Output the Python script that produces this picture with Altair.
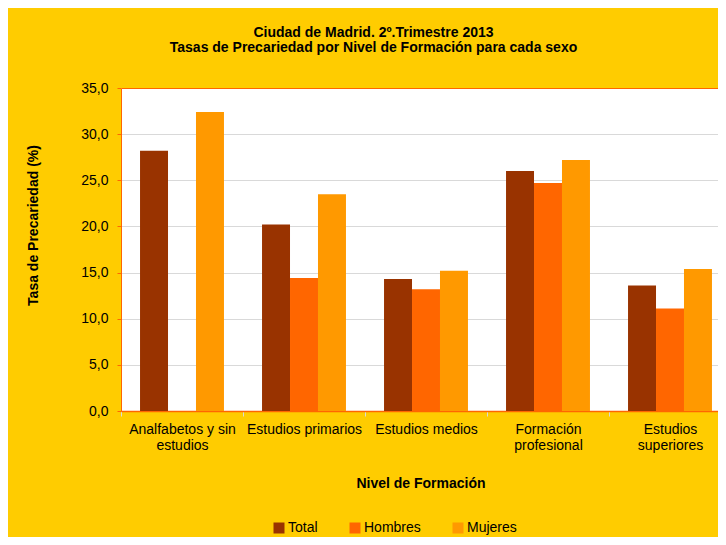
import altair as alt
import pandas as pd

categorias = ["Analfabetos y sin estudios", "Estudios primarios", "Estudios medios",
              "Formación profesional", "Estudios superiores"]
series = ["Total", "Hombres", "Mujeres"]
total = [28.2, 20.2, 14.3, 26.0, 13.6]
hombres = [None, 14.4, 13.2, 24.7, 11.1]
mujeres = [32.4, 23.5, 15.2, 27.2, 15.4]
colores = ["#993300", "#FF6600", "#FF9900"]
y_ticks = [0, 5, 10, 15, 20, 25, 30, 35]

rows = []
for i, c in enumerate(categorias):
    for s, vals in zip(series, [total, hombres, mujeres]):
        if vals[i] is not None:
            rows.append({"nivel": c, "serie": s, "tasa": vals[i]})
df = pd.DataFrame(rows)

FONT = "Liberation Sans"

label_expr = ("datum.label == 'Analfabetos y sin estudios' ? ['Analfabetos y sin', 'estudios'] : "
              "datum.label == 'Formación profesional' ? ['Formación', 'profesional'] : "
              "datum.label == 'Estudios superiores' ? ['Estudios', 'superiores'] : datum.label")

chart = alt.Chart(df).mark_bar().encode(
    x=alt.X("nivel:N", sort=categorias,
            scale=alt.Scale(domain=categorias, range=[0, 610], paddingInner=0, paddingOuter=0),
            axis=alt.Axis(title="Nivel de Formación", labelAngle=0, labelExpr=label_expr,
                          labelFont=FONT, labelFontSize=14, labelColor="#000000",
                          labelLineHeight=16, labelPadding=6, labelLimit=200,
                          tickBand="extent", tickColor="#D9D9D9", tickSize=5,
                          domainColor="#FF6600", domainWidth=1.5,
                          titleFont=FONT, titleFontSize=14, titleFontWeight="bold",
                          titleColor="#000000", titleX=299.5, titleY=72,
                          titleAlign="center", titleBaseline="middle")),
    xOffset=alt.XOffset("serie:N", sort=series,
                        scale=alt.Scale(domain=series, paddingInner=0, paddingOuter=0.68)),
    y=alt.Y("tasa:Q",
            scale=alt.Scale(domain=[0, 35], nice=False),
            axis=alt.Axis(title="Tasa de Precariedad (%)", values=y_ticks,
                          labelExpr="replace(format(datum.value, '.1f'), '.', ',')",
                          labelFont=FONT, labelFontSize=14, labelColor="#000000",
                          labelPadding=9, tickSize=4, tickColor="#FF6600",
                          domainColor="#FF6600",
                          gridColor=alt.condition("datum.value == 35",
                                                  alt.value("#FF6600"), alt.value("#D9D9D9")),
                          gridWidth=1,
                          titleFont=FONT, titleFontSize=14, titleFontWeight="bold",
                          titleColor="#000000", titleX=-88, titleY=137,
                          titleAlign="center", titleBaseline="middle", titleAngle=-90)),
    color=alt.Color("serie:N", sort=series,
                    scale=alt.Scale(domain=series, range=colores),
                    legend=alt.Legend(title=None, orient="none", legendX=151, legendY=433,
                                      direction="horizontal", symbolType="square",
                                      symbolSize=121, symbolStrokeWidth=0,
                                      labelFont=FONT, labelFontSize=14, labelColor="#000000",
                                      labelOffset=2, columnPadding=30, padding=0)),
).properties(
    width=597,
    height=323,
    title=alt.TitleParams(
        text=["Ciudad de Madrid. 2º.Trimestre 2013",
              "Tasas de Precariedad por Nivel de Formación para cada sexo"],
        font=FONT, fontSize=14, fontWeight="bold", color="#000000",
        anchor="middle", frame="group", dx=-46, offset=26, lineHeight=15),
    autosize=alt.AutoSizeParams(type="none"),
    padding={"left": 113, "top": 80, "right": 0, "bottom": 126},
    background="#FFCC00",
).configure_view(stroke=None, fill="#FFFFFF")

chart.save("out.html", embed_options={"renderer": "svg", "actions": False})
